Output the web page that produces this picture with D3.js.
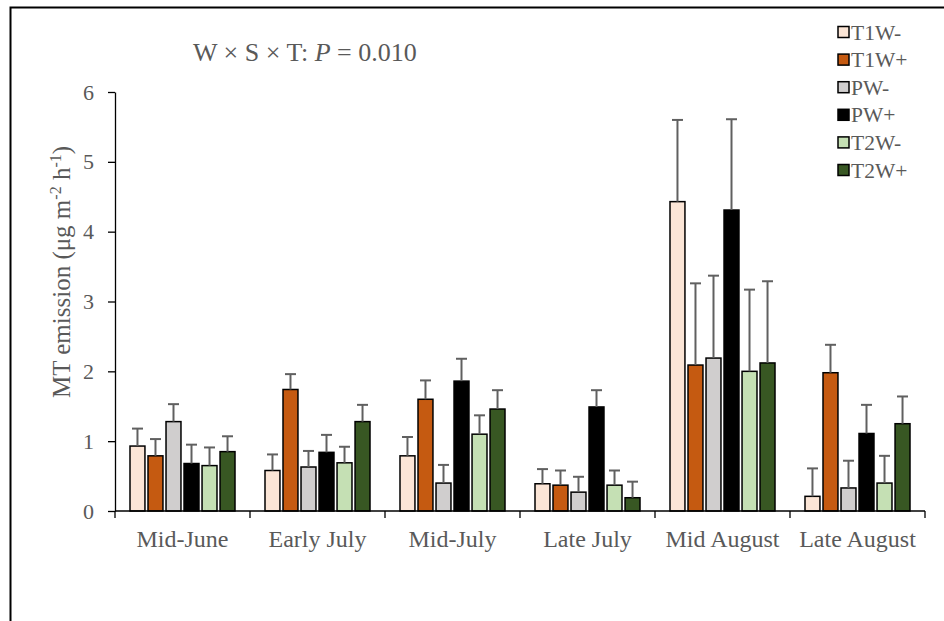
<!DOCTYPE html>
<html>
<head>
<meta charset="utf-8">
<script src="https://cdn.jsdelivr.net/npm/d3@7"></script>
<style>
  html, body { margin: 0; padding: 0; background: #fff; }
  svg { display: block; font-family: "Liberation Serif", "Times New Roman", serif; }
</style>
</head>
<body>
<svg id="chart" width="944" height="621"></svg>
<script>
// Sampling periods
const periods = ["Mid-June", "Early July", "Mid-July", "Late July", "Mid August", "Late August"];
// Treatments
const treatments = ["T1W-", "T1W+", "PW-", "PW+", "T2W-", "T2W+"];
const treatmentColors = ["#fbe5d6", "#c55a11", "#d0cece", "#000000", "#c5e0b4", "#385723"];

// Mean MT emission per treatment, one array per period (µg m-2 h-1)
const midJune    = [0.93, 0.79, 1.28, 0.68, 0.65, 0.85];
const earlyJuly  = [0.58, 1.74, 0.63, 0.84, 0.69, 1.28];
const midJuly    = [0.79, 1.60, 0.40, 1.86, 1.10, 1.46];
const lateJuly   = [0.39, 0.37, 0.27, 1.49, 0.37, 0.19];
const midAugust  = [4.43, 2.09, 2.19, 4.31, 2.00, 2.12];
const lateAugust = [0.21, 1.98, 0.33, 1.11, 0.40, 1.25];

// Standard errors, same layout
const seMidJune    = [0.25, 0.24, 0.25, 0.27, 0.26, 0.22];
const seEarlyJuly  = [0.23, 0.22, 0.23, 0.25, 0.23, 0.24];
const seMidJuly    = [0.27, 0.27, 0.26, 0.32, 0.27, 0.27];
const seLateJuly   = [0.21, 0.21, 0.22, 0.24, 0.21, 0.23];
const seMidAugust  = [1.17, 1.17, 1.18, 1.30, 1.17, 1.17];
const seLateAugust = [0.40, 0.40, 0.39, 0.41, 0.39, 0.39];

const yTicks = [0, 1, 2, 3, 4, 5, 6];

const means = [midJune, earlyJuly, midJuly, lateJuly, midAugust, lateAugust];
const errors = [seMidJune, seEarlyJuly, seMidJuly, seLateJuly, seMidAugust, seLateAugust];

const rows = [];
periods.forEach((p, i) => {
  treatments.forEach((t, j) => {
    rows.push({ period: p, treatment: t, value: means[i][j], se: errors[i][j], color: treatmentColors[j] });
  });
});

const svg = d3.select("#chart");
const textColor = "#595959";

// outer frame
svg.append("rect")
  .attr("x", 10.5).attr("y", 7.5)
  .attr("width", 1000).attr("height", 1000)
  .attr("fill", "none").attr("stroke", "#000").attr("stroke-width", 2);

const plot = { left: 115, right: 925, top: 92, bottom: 511 };

const x0 = d3.scaleBand().domain(periods).range([plot.left, plot.right]).paddingInner(0).paddingOuter(0);
const x1 = d3.scaleBand().domain(treatments).range([15, x0.bandwidth() - 15]).paddingInner(0.17).paddingOuter(0);
const y = d3.scaleLinear().domain([0, 6]).range([plot.bottom, plot.top]);

// bars
svg.append("g").selectAll("rect")
  .data(rows)
  .join("rect")
  .attr("x", d => x0(d.period) + x1(d.treatment))
  .attr("y", d => y(d.value))
  .attr("width", x1.bandwidth())
  .attr("height", d => y(0) - y(d.value))
  .attr("fill", d => d.color)
  .attr("stroke", "#000")
  .attr("stroke-width", 1.5);

// error bars (upper whisker only)
const eb = svg.append("g").attr("stroke", "#606060").attr("stroke-width", 2);
rows.forEach(d => {
  const cx = x0(d.period) + x1(d.treatment) + x1.bandwidth() / 2;
  eb.append("line").attr("x1", cx).attr("x2", cx).attr("y1", y(d.value)).attr("y2", y(d.value + d.se));
  eb.append("line").attr("x1", cx - 5.5).attr("x2", cx + 5.5).attr("y1", y(d.value + d.se)).attr("y2", y(d.value + d.se));
});

// y axis
const yAxis = svg.append("g")
  .attr("transform", `translate(${plot.left},0)`)
  .call(d3.axisLeft(y).tickValues(yTicks).tickFormat(d3.format("d")).tickSize(7).tickPadding(14).tickSizeOuter(0));
yAxis.select(".domain").attr("stroke", "#000").attr("stroke-width", 1.3);
yAxis.selectAll(".tick line").attr("stroke", "#000").attr("stroke-width", 1.3);
yAxis.selectAll(".tick text")
  .attr("fill", textColor).attr("font-size", 22)
  .attr("font-family", "Liberation Serif, serif");

// x axis: ticks on category boundaries
const xg = svg.append("g");
xg.append("line")
  .attr("x1", plot.left).attr("x2", plot.right)
  .attr("y1", y(0)).attr("y2", y(0))
  .attr("stroke", "#000").attr("stroke-width", 1.3);
const boundaries = periods.map(p => x0(p)).concat([x0(periods[periods.length - 1]) + x0.bandwidth()]);
xg.selectAll("line.tick")
  .data(boundaries)
  .join("line")
  .attr("class", "tick")
  .attr("x1", d => d).attr("x2", d => d)
  .attr("y1", y(0)).attr("y2", y(0) + 7)
  .attr("stroke", "#000").attr("stroke-width", 1.3);
xg.selectAll("text")
  .data(periods)
  .join("text")
  .attr("x", d => x0(d) + x0.bandwidth() / 2)
  .attr("y", 547)
  .attr("text-anchor", "middle")
  .attr("fill", textColor)
  .attr("font-size", 24)
  .text(d => d);

// y axis title
const yTitle = svg.append("text")
  .attr("transform", "translate(70,272) rotate(-90)")
  .attr("text-anchor", "middle")
  .attr("fill", textColor)
  .attr("font-size", 25);
yTitle.append("tspan").text("MT emission (μg m");
yTitle.append("tspan").attr("dy", -9).attr("font-size", 16).text("-2");
yTitle.append("tspan").attr("dy", 9).text(" h");
yTitle.append("tspan").attr("dy", -9).attr("font-size", 16).text("-1");
yTitle.append("tspan").attr("dy", 9).text(")");

// interaction annotation
const ann = svg.append("text")
  .attr("x", 193).attr("y", 61)
  .attr("fill", textColor)
  .attr("font-size", 26);
ann.append("tspan").text("W × S × T: ");
ann.append("tspan").attr("font-style", "italic").text("P");
ann.append("tspan").text(" = 0.010");

// legend
const legend = svg.append("g").attr("transform", "translate(838,32)");
treatments.forEach((t, i) => {
  const g = legend.append("g").attr("transform", `translate(0,${i * 27.6})`);
  g.append("rect")
    .attr("x", 0).attr("y", -5.5).attr("width", 11).attr("height", 11)
    .attr("fill", treatmentColors[i]).attr("stroke", "#000").attr("stroke-width", 1.5);
  g.append("text")
    .attr("x", 13).attr("y", 7.5)
    .attr("fill", textColor).attr("font-size", 21.5)
    .text(t);
});
</script>
</body>
</html>
